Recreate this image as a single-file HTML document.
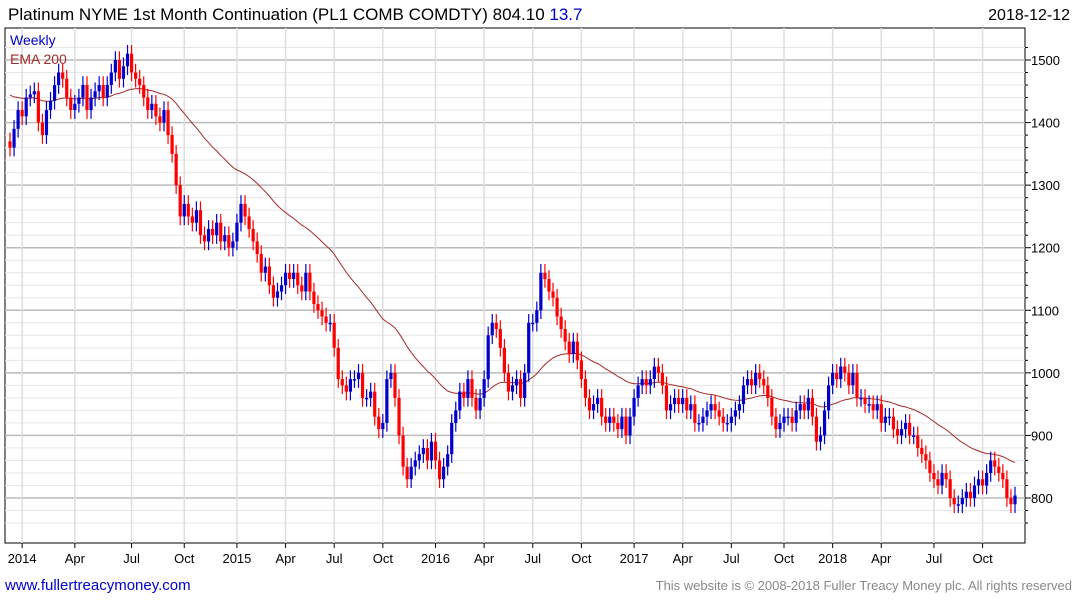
<!DOCTYPE html>
<html><head><meta charset="utf-8"><style>
body{margin:0;background:#fff;width:1075px;height:600px;overflow:hidden;font-family:"Liberation Sans",sans-serif}
svg text{font-family:"Liberation Sans",sans-serif}
</style></head><body>
<svg id="chart" width="1075" height="600" xmlns="http://www.w3.org/2000/svg">
<text x="8" y="20" font-size="17" fill="#000">Platinum NYME 1st Month Continuation (PL1 COMB COMDTY) 804.10 <tspan fill="#0000cc">13.7</tspan></text>
<text x="1070" y="20" font-size="16" fill="#000" text-anchor="end">2018-12-12</text>
<rect x="5" y="28" width="1020" height="515" fill="#fff" stroke="#000" stroke-width="1"/>
<g id="grid"></g>
<g id="ema"></g>
<g id="candles"></g>
<g id="yaxis"></g>
<g id="xaxis"></g>
<text x="10" y="45" font-size="14" fill="#0000cc">Weekly</text>
<text x="10" y="64" font-size="14" fill="#a52a2a">EMA 200</text>
<text x="5" y="590" font-size="15" fill="#0000cc">www.fullertreacymoney.com</text>
<text x="1072" y="590" font-size="13" fill="#888" text-anchor="end">This website is © 2008-2018 Fuller Treacy Money plc. All rights reserved</text>
</svg>
<script>
const closes=[1360,1390,1420,
1410,1440,1445,1450, 1400,1380,1420,1435,1460, 1480,1470,1440,1420, 1430,1440,1460,1420,1440, 1450,1460,1440,1460,1480, 1500,1470,1490,1510,
1480,1470,1460,1440,1420, 1430,1410,1400,1420, 1380,1350,1300,1250, 1270,1250,1240,1260, 1220,1210,1230,1220,1240, 1210,1220,1200,1210,
1240,1270,1250,1230, 1210,1190,1160,1170, 1140,1120,1130,1140, 1160,1150,1160,1140, 1130,1160,1130,1110, 1100,1090,1080,1080,
1040,990,980,970, 990,990,1000,960, 960,970,930,910, 920,990,1000,960, 900,850,830,850,860, 870,880,860,890,
860,830,850,870, 920,940,970,960, 990,960,940,960, 990,1060,1080,1070, 1040,1000,970,980, 990,960,1000,1080,
1080,1100,1160,1150, 1130,1120,1090,1070, 1050,1030,1050,1020, 990,960,940,950, 960,930,920,930, 920,910,930,900,930,
960,980,990,980, 990,1010,1000,980, 940,950,960,950, 960,940,950,920, 920,930,940,950, 940,930,920,920,
930,940,950,980, 990,980,1000,990,980, 960,930,910,920, 930,930,920,940, 950,940,960,930, 890,900,940,980,
1000,990,1010,1000, 980,1000,960,960, 950,950,940,950, 920,930,930,910, 900,910,920,900, 900,880,870,860,840,
830,820,840,830, 800,790,790,800, 810,800,820,830, 820,840,860,850, 840,830,800,790, 804];
const yTicks=[800,900,1000,1100,1200,1300,1400,1500];
const xLabels=["2014","Apr","Jul","Oct","2015","Apr","Jul","Oct","2016","Apr","Jul","Oct","2017","Apr","Jul","Oct","2018","Apr","Jul","Oct"];
const xLabelWeeks=[3,16,30,43,56,68,80,92,105,117,129,141,154,166,178,191,203,215,228,240];
const emaStart=1448;
const emaPeriodWeeks=40;

const NS="http://www.w3.org/2000/svg";
const X0=10,X1=1015,L=5,R=1025,T=28,B=543;
const nW=closes.length;
const xs=i=>X0+i*(X1-X0)/(nW-1);
const ys=v=>60+(1500-v)*0.6257;
function mk(tag,attrs,parent){const e=document.createElementNS(NS,tag);for(const k in attrs)e.setAttribute(k,attrs[k]);parent.appendChild(e);return e;}
const grid=document.getElementById('grid'),yax=document.getElementById('yaxis'),xax=document.getElementById('xaxis');
for(let v=760;v<=1520;v+=20){const y=ys(v);if(y<T||y>B)continue;
 const major=v%100===0;
 const g=mk('line',{x1:L,x2:R,y1:y,y2:y,stroke:major?'#bbb':'#e6e6e6','stroke-width':major?1.5:1},grid);
 
 
 const tk=mk('line',{x1:R,x2:R+(major?6:3),y1:y,y2:y,stroke:'#000'},yax);
 
 
}
yTicks.forEach(v=>{const t=mk('text',{x:1031,y:ys(v)+5,'font-size':13,fill:'#000'},yax);t.textContent=v;
 
 });
xLabels.forEach((s,j)=>{const x=xs(xLabelWeeks[j]);
 const g=mk('line',{x1:x,x2:x,y1:T,y2:B,stroke:'#ddd','stroke-width':1.5},grid);
 
 
 const tk=mk('line',{x1:x,x2:x,y1:B,y2:B+5,stroke:'#000'},xax);
 
 
 const t=mk('text',{x:x,y:563,'font-size':13,'text-anchor':'middle',fill:'#000'},xax);t.textContent=s;
 
 });
const a=2/(emaPeriodWeeks+1);let e=emaStart,pts=[];
closes.forEach((c,i)=>{e=e+a*(c-e);pts.push(xs(i).toFixed(1)+','+ys(e).toFixed(1));});
const pl=mk('polyline',{points:pts.join(' '),fill:'none',stroke:'#a52a2a','stroke-width':1},document.getElementById('ema'));


const cg=document.getElementById('candles');
closes.forEach((c,i)=>{const o=i?closes[i-1]:c+10;const col=c>=o?'#0000cc':'#ff0000';
 const hi=Math.max(o,c)+14,lo=Math.min(o,c)-14;const x=xs(i);
 const g=mk('g',{},cg);
 
 
 mk('line',{x1:x,x2:x,y1:ys(hi),y2:ys(lo),stroke:col,'stroke-width':1.2},g);
 const yt=ys(Math.max(o,c)),yb=ys(Math.min(o,c));
 mk('rect',{x:x-1.6,y:yt,width:3.2,height:Math.max(1.5,yb-yt),fill:col},g);
});
</script>
</body></html>
